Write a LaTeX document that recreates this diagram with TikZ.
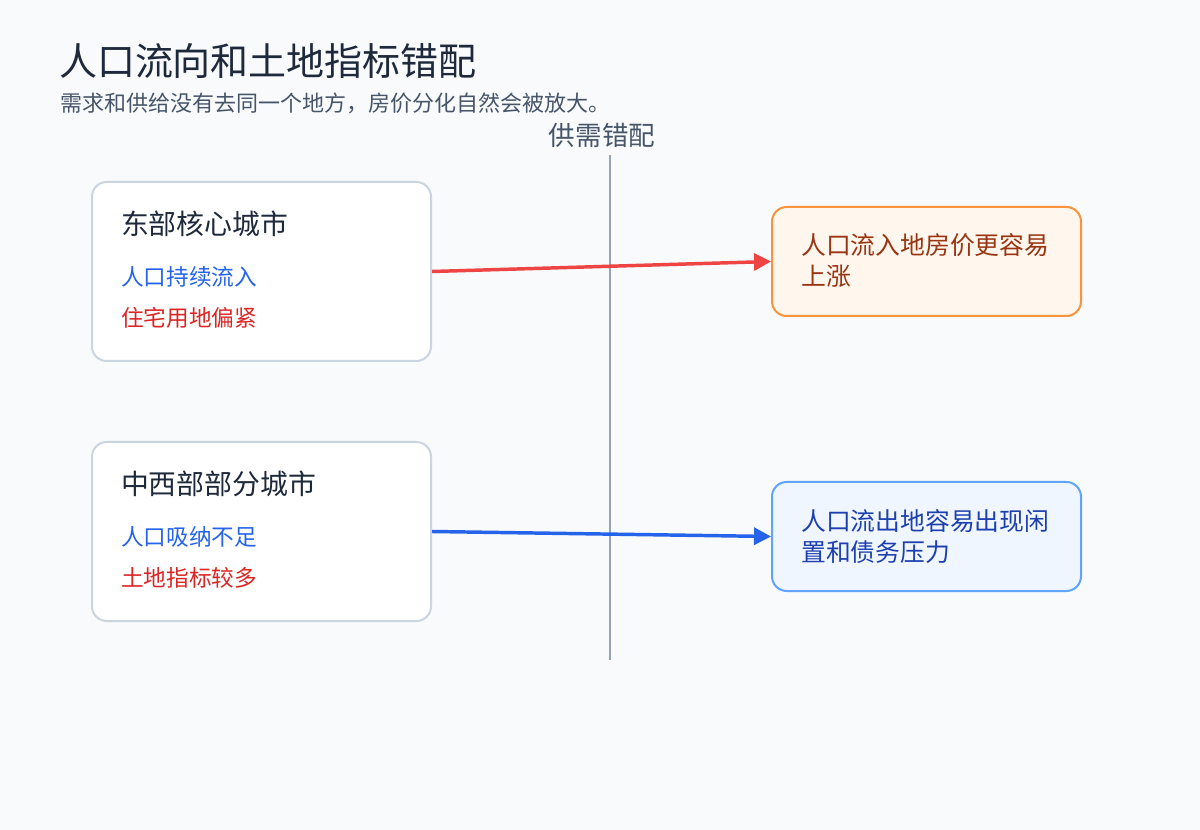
\documentclass[tikz,border=0pt]{standalone}
\usepackage{fontspec}
\setmainfont{Noto Sans CJK SC}
\usetikzlibrary{arrows.meta}
\definecolor{bg}{HTML}{F8FAFC}
\definecolor{titlec}{HTML}{1E293B}
\definecolor{subc}{HTML}{475569}
\definecolor{axisc}{HTML}{94A3B8}
\definecolor{boxline}{HTML}{CBD5E1}
\definecolor{bluet}{HTML}{2563EB}
\definecolor{redt}{HTML}{DC2626}
\definecolor{redarrow}{HTML}{EF4444}
\definecolor{orfill}{HTML}{FFF7ED}
\definecolor{orline}{HTML}{FB923C}
\definecolor{ortext}{HTML}{9A3412}
\definecolor{blfill}{HTML}{EFF6FF}
\definecolor{blline}{HTML}{60A5FA}
\definecolor{bltext}{HTML}{1E40AF}
\tikzset{
  cardbox/.style={draw=boxline, line width=1.5pt, fill=white, rounded corners=11pt,
    minimum width=254.25pt, minimum height=134.25pt, anchor=north west, inner sep=0pt},
  resbox/.style={line width=1.5pt, rounded corners=11pt,
    minimum width=231.75pt, minimum height=81.75pt, anchor=north west, inner sep=0pt},
  txt/.style={anchor=west, inner sep=0pt, outer sep=0pt},
  headtxt/.style={txt, text=titlec, font=\fontsize{20.9pt}{24pt}\selectfont},
  itemtxt/.style={txt, font=\fontsize{17pt}{20pt}\selectfont},
  restxt/.style={anchor=north west, inner sep=0pt, align=left, font=\fontsize{18.6pt}{23.25pt}\selectfont},
  flow/.style={line width=2.6pt, -{Triangle[length=12.75pt,width=12.75pt]}}
}
\begin{document}
\begin{tikzpicture}[x=0.75pt,y=-0.75pt]
\path[fill=bg] (0,0) rectangle (1200,830);
\useasboundingbox (0,0) rectangle (1200,830);

% titles
\node[txt, text=titlec, font=\fontsize{28.5pt}{32pt}\selectfont] (title) at (59,61.5) {人口流向和土地指标错配};
\node[txt, text=subc, font=\fontsize{16.5pt}{19pt}\selectfont] (subtitle) at (60,103) {需求和供给没有去同一个地方，房价分化自然会被放大。};

% axis
\node[inner sep=0pt, text=subc, font=\fontsize{19.9pt}{23pt}\selectfont] (axislabel) at (602,135) {供需错配};
\coordinate (axtop) at (610,155);
\coordinate (axbot) at (610,660);
\draw[axisc, line width=2.2pt] (axtop) -- (axbot);

% left cards
\node[cardbox] (east) at (91,181) {};
\node[headtxt] (eastH) at (121,223.5) {东部核心城市};
\node[itemtxt, text=bluet] (eastA) at (121,277) {人口持续流入};
\node[itemtxt, text=redt] (eastB) at (121,318) {住宅用地偏紧};

\node[cardbox] (west) at (91,441) {};
\node[headtxt] (westH) at (121,483.5) {中西部部分城市};
\node[itemtxt, text=bluet] (westA) at (121,537) {人口吸纳不足};
\node[itemtxt, text=redt] (westB) at (121,578) {土地指标较多};

% right result boxes
\node[resbox, draw=orline, fill=orfill] (up) at (771,206) {};
\node[restxt, text=ortext] (upT) at (801,233) {人口流入地房价更容易\\上涨};

\node[resbox, draw=blline, fill=blfill] (down) at (771,481) {};
\node[restxt, text=bltext] (downT) at (801,509) {人口流出地容易出现闲\\置和债务压力};

% arrows
\draw[flow, redarrow] (east.east) -- (up.west);
\draw[flow, bluet] (west.east) -- (down.west);
\end{tikzpicture}
\end{document}
